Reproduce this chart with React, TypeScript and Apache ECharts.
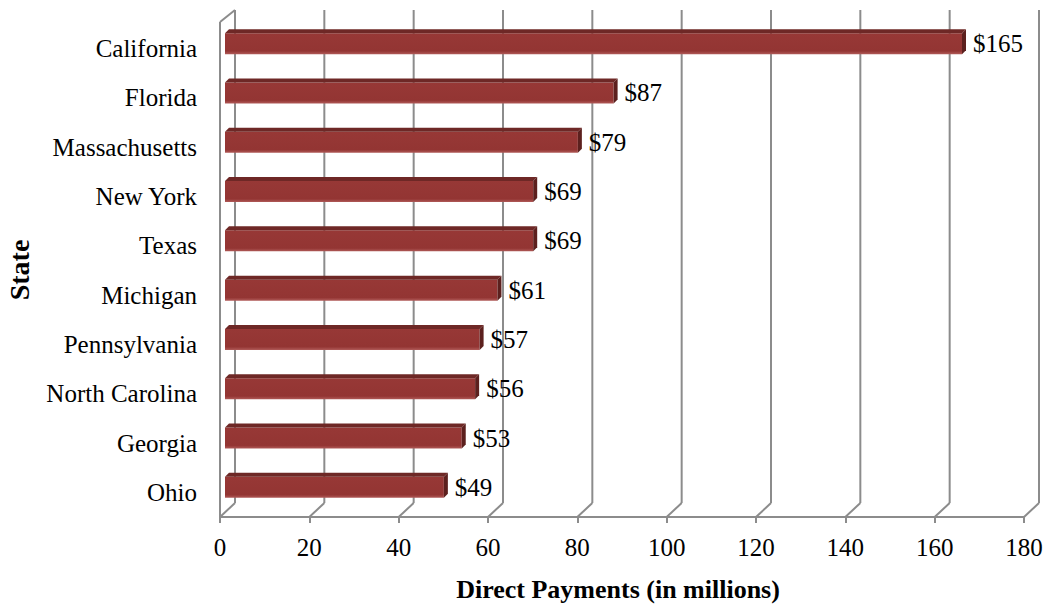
import React, { useEffect, useRef } from "react";
import * as echarts from "echarts";

const categories = [
  "California",
  "Florida",
  "Massachusetts",
  "New York",
  "Texas",
  "Michigan",
  "Pennsylvania",
  "North Carolina",
  "Georgia",
  "Ohio",
];
const values = [165, 87, 79, 69, 69, 61, 57, 56, 53, 49];
const xTicks = [0, 20, 40, 60, 80, 100, 120, 140, 160, 180];

const FONT = "'Liberation Serif', 'Times New Roman', serif";
const GRID_COLOR = "#8c8c8c";

export default function App() {
  const ref = useRef<HTMLDivElement>(null);

  useEffect(() => {
    if (!ref.current) return;
    const chart = echarts.init(ref.current, undefined, { renderer: "svg" });

    const DX = 15;
    const DY = -14;

    const option: any = {
      animation: false,
      backgroundColor: "#ffffff",
      grid: { left: 220, right: 23, top: 24, bottom: 88 },
      xAxis: {
        type: "value",
        min: 0,
        max: 180,
        interval: 20,
        splitLine: { show: false },
        axisLine: { show: true, lineStyle: { color: GRID_COLOR, width: 2 } },
        axisTick: { show: true, length: 6, lineStyle: { color: GRID_COLOR, width: 2 } },
        axisLabel: {
          fontSize: 25,
          fontFamily: FONT,
          color: "#000",
          margin: 18,
          customValues: xTicks,
        },
      },
      yAxis: {
        type: "category",
        data: categories,
        inverse: true,
        axisLine: { show: false },
        axisTick: { show: false },
        splitLine: { show: false },
        axisLabel: {
          fontSize: 25,
          fontFamily: FONT,
          color: "#000",
          margin: 23,
        },
      },
      graphic: [
        {
          type: "text",
          x: 19,
          y: 270,
          rotation: Math.PI / 2,
          style: {
            text: "State",
            font: `bold 28px ${FONT}`,
            fill: "#000",
            align: "center",
            verticalAlign: "middle",
          },
        },
        {
          type: "text",
          x: 618,
          y: 589,
          style: {
            text: "Direct Payments (in millions)",
            font: `bold 26px ${FONT}`,
            fill: "#000",
            align: "center",
            verticalAlign: "middle",
          },
        },
      ],
      series: [
        {
          type: "custom",
          z: 1,
          silent: true,
          encode: { x: 0, y: 1 },
          data: xTicks.map((v) => [v, 0]),
          renderItem: (params: any, api: any) => {
            const v = api.value(0);
            const x = api.coord([v, 0])[0];
            const cs = params.coordSys;
            const yb = cs.y + cs.height;
            const ls = { stroke: GRID_COLOR, lineWidth: 2 };
            const children: any[] = [
              {
                type: "line",
                shape: { x1: x, y1: yb, x2: x + DX, y2: yb + DY },
                style: ls,
              },
              {
                type: "line",
                shape: { x1: x + DX, y1: yb + DY, x2: x + DX, y2: cs.y + DY },
                style: ls,
              },
            ];
            if (v === 0) {
              children.push({
                type: "line",
                shape: { x1: x, y1: yb, x2: x, y2: cs.y - 2 },
                style: ls,
              });
              children.push({
                type: "line",
                shape: { x1: x, y1: cs.y - 2, x2: x + DX, y2: cs.y + DY },
                style: ls,
              });
            }
            return { type: "group", children };
          },
        },
        {
          type: "custom",
          z: 5,
          encode: { x: 0, y: 1 },
          data: values.map((v, i) => [v, i]),
          renderItem: (params: any, api: any) => {
            const v = api.value(0);
            const idx = api.value(1);
            const p0 = api.coord([0, idx]);
            const p1 = api.coord([v, idx]);
            const ox = 5;
            const oy = -5;
            const h = 21;
            const d = 4;
            const x0 = p0[0] + ox;
            const x1 = p1[0] + ox;
            const yt = p0[1] + oy - h / 2;
            const yb = yt + h;
            return {
              type: "group",
              children: [
                {
                  type: "rect",
                  shape: { x: x0, y: yt, width: x1 - x0, height: h },
                  style: {
                    fill: new echarts.graphic.LinearGradient(0, 0, 0, 1, [
                      { offset: 0, color: "#973836" },
                      { offset: 0.85, color: "#933533" },
                      { offset: 1, color: "#b05a58" },
                    ]),
                  },
                },
                {
                  type: "polygon",
                  shape: {
                    points: [
                      [x0, yt],
                      [x1, yt],
                      [x1 + d, yt - d],
                      [x0 + d, yt - d],
                    ],
                  },
                  style: { fill: "#6e2826" },
                },
                {
                  type: "polygon",
                  shape: {
                    points: [
                      [x1, yt],
                      [x1 + d, yt - d],
                      [x1 + d, yb - d],
                      [x1, yb],
                    ],
                  },
                  style: { fill: "#5c201e" },
                },
                {
                  type: "text",
                  x: x1 + d + 7,
                  y: p0[1] + oy,
                  style: {
                    text: "$" + v,
                    font: `25px ${FONT}`,
                    fill: "#000",
                    align: "left",
                    verticalAlign: "middle",
                  },
                },
              ],
            };
          },
        },
      ],
    };

    chart.setOption(option);
    return () => chart.dispose();
  }, []);

  return (
    <div
      ref={ref}
      style={{ position: "absolute", left: 0, top: 0, width: 1047, height: 605 }}
    />
  );
}
